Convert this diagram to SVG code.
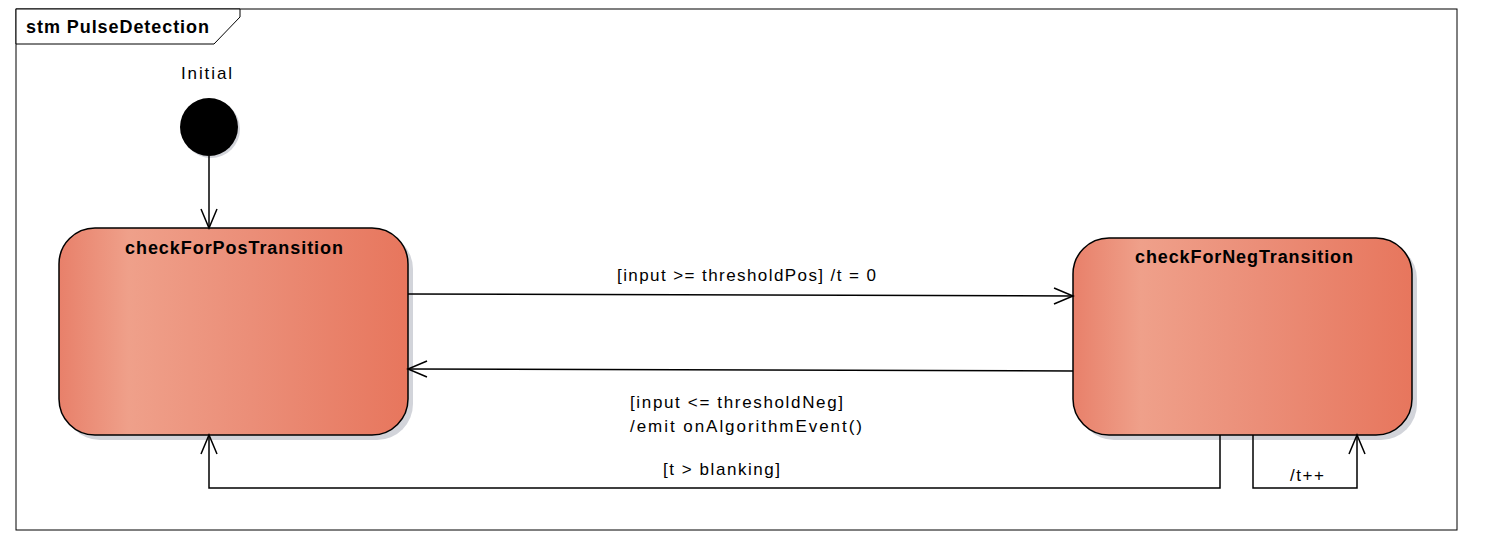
<svg xmlns="http://www.w3.org/2000/svg" width="1510" height="555" viewBox="0 0 1510 555">
<style>
text{font-family:"Liberation Sans",Arial,sans-serif;fill:#000}
.lbl{font-size:17px}
.title{font-size:18px;font-weight:bold}
.st{stroke:#000;stroke-width:1.5}
.sh{fill:#d2d4da}
.con{fill:none;stroke:#000;stroke-width:1.5}
</style>
<defs>
<linearGradient id="g" x1="0" y1="0" x2="1" y2="0">
<stop offset="0" stop-color="#e8806a"/>
<stop offset="0.2" stop-color="#efa08a"/>
<stop offset="0.55" stop-color="#eb8e78"/>
<stop offset="1" stop-color="#e7765d"/>
</linearGradient>
<marker id="a" markerWidth="22" markerHeight="20" refX="20" refY="10" orient="auto" markerUnits="userSpaceOnUse">
<path d="M1,2 L20,10 L1,18" fill="none" stroke="#000" stroke-width="1.5"/>
</marker>
</defs>
<g id="frame">
<rect x="16" y="9" width="1441" height="521" fill="#fff" stroke="#000" stroke-width="1"/>
<path d="M16,9 H240 V17 L214,44 H16 Z" fill="#fff" stroke="#000" stroke-width="1"/>
<text x="26" y="33" class="title" textLength="183" lengthAdjust="spacing">stm PulseDetection</text>
</g>
<g id="initial">
<circle cx="211" cy="129" r="29" fill="#d2d4da"/>
<circle cx="209" cy="127" r="29" fill="#000"/>
<text x="181" y="79" class="lbl" textLength="51" lengthAdjust="spacing">Initial</text>
</g>
<g id="checkForPosTransition">
<rect x="64" y="233" width="349" height="207" rx="36" class="sh"/>
<rect x="59" y="228" width="349" height="207" rx="36" fill="url(#g)" class="st"/>
<text x="125" y="254" class="title" textLength="218" lengthAdjust="spacing">checkForPosTransition</text>
</g>
<g id="checkForNegTransition">
<rect x="1078" y="243" width="339" height="197" rx="36" class="sh"/>
<rect x="1073" y="238" width="339" height="197" rx="36" fill="url(#g)" class="st"/>
<text x="1135" y="263" class="title" textLength="218" lengthAdjust="spacing">checkForNegTransition</text>
</g>
<g id="connectors">
<line x1="209" y1="156" x2="209" y2="228" class="con" marker-end="url(#a)"/>
<line x1="408" y1="294" x2="1073" y2="296" class="con" marker-end="url(#a)"/>
<line x1="1073" y1="371" x2="408" y2="369" class="con" marker-end="url(#a)"/>
<polyline points="1220,435 1220,488 209,488 209,435" class="con" marker-end="url(#a)"/>
<polyline points="1253,435 1253,488 1357,488 1357,435" class="con" marker-end="url(#a)"/>
<text x="617" y="281" class="lbl" textLength="259" lengthAdjust="spacing">[input &gt;= thresholdPos] /t = 0</text>
<text x="630" y="408" class="lbl" textLength="213" lengthAdjust="spacing">[input &lt;= thresholdNeg]</text>
<text x="630" y="432" class="lbl" textLength="232" lengthAdjust="spacing">/emit onAlgorithmEvent()</text>
<text x="663" y="475" class="lbl" textLength="117" lengthAdjust="spacing">[t &gt; blanking]</text>
<text x="1290" y="481" class="lbl" textLength="34" lengthAdjust="spacing">/t++</text>
</g>
</svg>
